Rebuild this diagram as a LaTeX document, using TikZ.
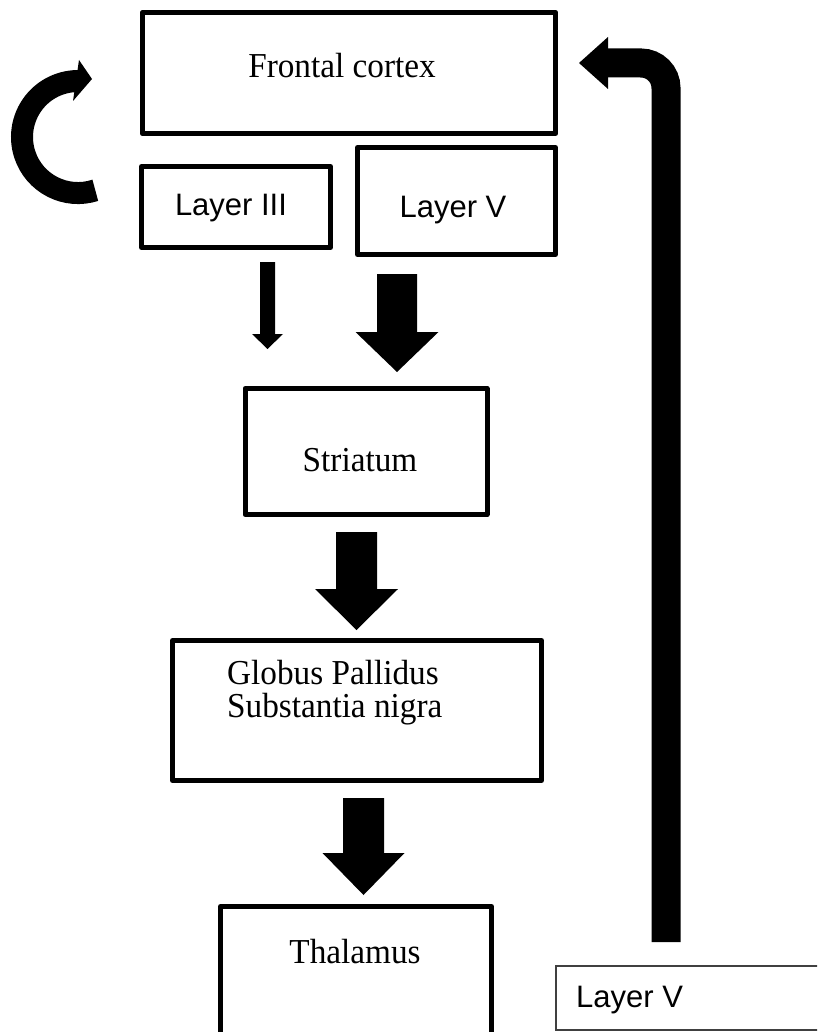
\documentclass[tikz,border=0pt]{standalone}
\usepackage{fontspec}
\setmainfont[FakeStretch=0.95]{Liberation Serif}
\newfontfamily\sansf{Liberation Sans}
\newcommand\downblock[6]{% x, ytop, yhead, ytip, shaft half width, head half width
  \fill ({#1-#5},#2) -- ({#1+#5},#2) -- ({#1+#5},#3) -- ({#1+#6},#3) -- (#1,#4)
        -- ({#1-#6},#3) -- ({#1-#5},#3) -- cycle;}
\begin{document}
\begin{tikzpicture}[x=1pt,y=-1pt,
  box/.style={draw, line width=5pt, line join=round, rectangle, inner sep=0pt},
  thinbox/.style={draw=black!75, line width=1.5pt, rectangle, inner sep=0pt},
  serif/.style={font=\fontsize{35}{33}\selectfont, inner sep=0pt},
  sans/.style={font=\sansf\fontsize{31}{36}\selectfont, inner sep=0pt}]
\useasboundingbox (0,0) rectangle (817,1032);
\clip (0,0) rectangle (817,1032);
\fill[white] (0,0) rectangle (817,1032);

% boxes
\node[box, minimum width=413.5pt, minimum height=121pt] (frontal) at (349,73) {};
\node[box, minimum width=189pt, minimum height=81pt] (layer3) at (236,207) {};
\node[box, minimum width=198pt, minimum height=107pt] (layer5) at (456.5,201) {};
\node[box, minimum width=242pt, minimum height=126pt] (striatum) at (366,451.5) {};
\node[box, minimum width=369pt, minimum height=140pt] (gp) at (357,710.5) {};
\node[box, minimum width=271pt, minimum height=143pt] (thal) at (356,978) {};
\node[thinbox, minimum width=284pt, minimum height=64pt] (layer5b) at (698,998) {};

% texts
\node[serif, anchor=base] (frontal-t) at (342,78) {Frontal cortex};
\node[sans, anchor=base] (layer3-t) at (231,216) {Layer III};
\node[sans, anchor=base] (layer5-t) at (453,218) {Layer V};
\node[serif, anchor=base] (striatum-t) at (360,471) {Striatum};
\node[serif, align=left, anchor=north west] (gp-t) at (227,660) {Globus Pallidus\\Substantia nigra};
\node[serif, anchor=base] (thal-t) at (355,963) {Thalamus};
\node[sans, anchor=base west] (layer5b-t) at (576,1007) {Layer V};

% block arrows
\downblock{267.5}{262}{334}{349}{7.5}{15.5}
\downblock{397}{274}{332}{372}{20}{41.5}
\downblock{356.5}{532}{589}{630}{20.5}{41.5}
\downblock{363.5}{798}{853}{895}{20.5}{41}

% long bent arrow back to frontal cortex
\coordinate (rtail) at (666,942);
\coordinate (rhead) at (606,63);
\draw[line width=29pt, rounded corners=25pt] (rtail) |- (rhead);
\fill (608,37) -- (579,63) -- (608,89) -- cycle;

% curved recurrent arrow
\draw[line width=22pt] (95.3,190.3) arc[start angle=288, end angle=88, radius=56pt];
\fill (79,60) -- (92,79) -- (73,101) -- cycle;
\end{tikzpicture}
\end{document}
